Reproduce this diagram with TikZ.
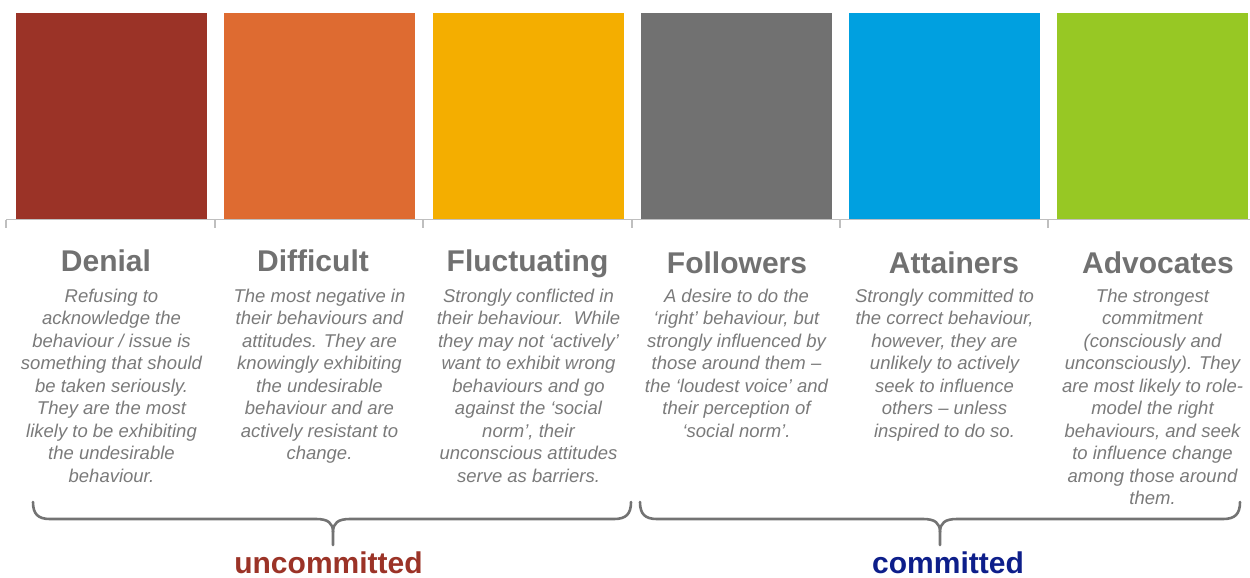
\documentclass[tikz,border=0pt]{standalone}
\usepackage{fontspec}
\setmainfont{Liberation Sans}
\definecolor{cDen}{HTML}{9B3327}
\definecolor{cDif}{HTML}{DE6B31}
\definecolor{cFlu}{HTML}{F4AE00}
\definecolor{cFol}{HTML}{717171}
\definecolor{cAtt}{HTML}{00A0E0}
\definecolor{cAdv}{HTML}{97C824}
\definecolor{cTitle}{HTML}{717171}
\definecolor{cBody}{HTML}{7A7A7A}
\definecolor{cAxis}{HTML}{BFBFBF}
\definecolor{cBrace}{HTML}{737373}
\definecolor{cUn}{HTML}{9B3327}
\definecolor{cCo}{HTML}{0D1E8A}
\begin{document}
\begin{tikzpicture}[x=1pt,y=-1pt,
  bar/.style={draw=none,inner sep=0pt,minimum width=191pt,minimum height=206pt},
  title/.style={inner sep=0pt,anchor=base,text=cTitle,font=\fontsize{30}{36}\selectfont\bfseries},
  body/.style={inner sep=0pt,anchor=north,align=center,text=cBody,font=\fontsize{18.5}{22.5}\selectfont\itshape},
  axisline/.style={draw=cAxis,line width=1.3pt},
  bracepath/.style={draw=cBrace,line width=2.6pt,line cap=round,line join=round},
  group/.style={inner sep=0pt,anchor=base,font=\fontsize{30}{36}\selectfont\bfseries}]
\useasboundingbox (0,0) rectangle (1250,578);
% bars
\node[bar,fill=cDen] (b1) at (111.5,116) {};
\node[bar,fill=cDif] (b2) at (319.5,116) {};
\node[bar,fill=cFlu] (b3) at (528.5,116) {};
\node[bar,fill=cFol] (b4) at (736.5,116) {};
\node[bar,fill=cAtt] (b5) at (944.5,116) {};
\node[bar,fill=cAdv] (b6) at (1152.5,116) {};
% axis
\coordinate (a0) at (6,219.5);
\coordinate (a1) at (1250,219.5);
\draw[axisline] (a0) -- (a1);
\foreach \x in {6,215,423,632,840,1048}{
  \draw[axisline] (\x,219.5) -- (\x,228);
}
% titles
\node[title] (t1) at (106,271) {Denial};
\node[title] (t2) at (313,271) {Difficult};
\node[title] (t3) at (527.5,271) {Fluctuating};
\node[title] (t4) at (737,273) {Followers};
\node[title] (t5) at (954,273) {Attainers};
\node[title] (t6) at (1158,273) {Advocates};
% bodies
\node[body] (d1) at (111.5,288.5) {Refusing to\\acknowledge the\\behaviour / issue is\\something that should\\be taken seriously.\\They are the most\\likely to be exhibiting\\the undesirable\\behaviour.};
\node[body] (d2) at (319.5,288.5) {The most negative in\\their behaviours and\\attitudes. They are\\knowingly exhibiting\\the undesirable\\behaviour and are\\actively resistant to\\change.};
\node[body] (d3) at (528.5,288.5) {Strongly conflicted in\\their behaviour.\ \ While\\they may not ‘actively’\\want to exhibit wrong\\behaviours and go\\against the ‘social\\norm’, their\\unconscious attitudes\\serve as barriers.};
\node[body] (d4) at (736.5,288.5) {A desire to do the\\‘right’ behaviour, but\\strongly influenced by\\those around them –\\the ‘loudest voice’ and\\their perception of\\‘social norm’.};
\node[body] (d5) at (944.5,288.5) {Strongly committed to\\the correct behaviour,\\however, they are\\unlikely to actively\\seek to influence\\others – unless\\inspired to do so.};
\node[body] (d6) at (1152.5,288.5) {The strongest\\commitment\\(consciously and\\unconsciously). They\\are most likely to role-\\model the right\\behaviours, and seek\\to influence change\\among those around\\them.};
% braces
\draw[bracepath] (33,502) .. controls (33,514) and (38,519) .. (50,519) -- (316,519) .. controls (328,519) and (333,523) .. (333,532) -- (333,545);
\draw[bracepath] (631,502) .. controls (631,514) and (626,519) .. (614,519) -- (350,519) .. controls (338,519) and (333,523) .. (333,532);
\draw[bracepath] (640,502) .. controls (640,514) and (645,519) .. (657,519) -- (923,519) .. controls (935,519) and (940,523) .. (940,532) -- (940,545);
\draw[bracepath] (1240,502) .. controls (1240,514) and (1235,519) .. (1223,519) -- (957,519) .. controls (945,519) and (940,523) .. (940,532);
% group labels
\node[group,text=cUn] (g1) at (328.5,573.5) {uncommitted};
\node[group,text=cCo] (g2) at (948,573.5) {committed};
\end{tikzpicture}
\end{document}
